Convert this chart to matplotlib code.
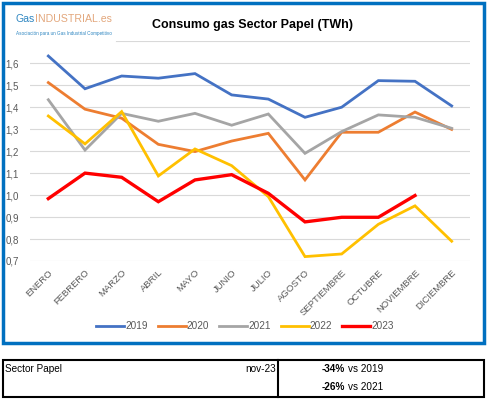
import matplotlib
matplotlib.use("Agg")
import matplotlib.pyplot as plt
from matplotlib.patches import Rectangle

plt.rcParams['font.family'] = ['Liberation Sans', 'DejaVu Sans']

meses = ["ENERO", "FEBRERO", "MARZO", "ABRIL", "MAYO", "JUNIO", "JULIO",
         "AGOSTO", "SEPTIEMBRE", "OCTUBRE", "NOVIEMBRE", "DICIEMBRE"]

v2019 = [1.633, 1.484, 1.542, 1.532, 1.553, 1.456, 1.437, 1.354, 1.400, 1.521, 1.518, 1.406]
v2020 = [1.512, 1.391, 1.350, 1.231, 1.198, 1.246, 1.281, 1.069, 1.286, 1.286, 1.378, 1.299]
v2021 = [1.434, 1.205, 1.372, 1.336, 1.372, 1.318, 1.369, 1.190, 1.289, 1.365, 1.354, 1.304]
v2022 = [1.360, 1.233, 1.380, 1.087, 1.210, 1.134, 0.993, 0.720, 0.732, 0.867, 0.951, 0.790]
v2023 = [0.984, 1.100, 1.081, 0.970, 1.069, 1.093, 1.008, 0.878, 0.899, 0.899, 0.998]

series = [("2019", v2019, "#4472C4", 2.0),
          ("2020", v2020, "#ED7D31", 2.0),
          ("2021", v2021, "#A5A5A5", 2.0),
          ("2022", v2022, "#FFC000", 2.0),
          ("2023", v2023, "#FF0000", 2.4)]

yticks = [0.7, 0.8, 0.9, 1.0, 1.1, 1.2, 1.3, 1.4, 1.5, 1.6]

W, H = 488, 400
fig = plt.figure(figsize=(W / 100, H / 100), dpi=100)

def fx(px):
    return px / W

def fy(py):
    return 1 - py / H

# marco azul del gráfico
fig.patches.append(Rectangle((fx(3), fy(343)), fx(481), 340 / H, transform=fig.transFigure,
                             fill=False, edgecolor="#0070C0", linewidth=2.5))

ax = fig.add_axes([fx(30), fy(261), fx(440), (261 - 41.3) / H])
for nombre, vals, color, lw in series:
    ax.plot(range(len(vals)), vals, color=color, linewidth=lw, label=nombre,
            solid_joinstyle="miter")

ax.set_xlim(-0.5, 11.5)
ax.set_ylim(0.7, 1.7)
ax.set_yticks(yticks)
ax.set_yticklabels([f"{t:.1f}".replace(".", ",") for t in yticks], fontsize=7,
                   color="#595959")
ax.set_xticks(range(len(meses)))
ax.set_xticklabels(meses, rotation=45, ha="right", rotation_mode="anchor",
                   fontsize=6.8, color="#595959")
ax.tick_params(axis="both", length=0)
ax.tick_params(axis="y", pad=8)
ax.tick_params(axis="x", pad=5)
ax.grid(axis="y", color="#D9D9D9", linewidth=0.8)
ax.set_axisbelow(True)
for s in ax.spines.values():
    s.set_visible(False)
ax.axhline(1.7, xmin=(116 - 30) / 440, xmax=1, color="#D9D9D9", linewidth=0.8, zorder=0)

ax.legend(loc="center", bbox_to_anchor=(fx(245), fy(326)), bbox_transform=fig.transFigure,
          ncol=5, frameon=False, handlelength=2.8, handletextpad=0.1,
          columnspacing=1.0, labelcolor="#595959", fontsize=7.2)

fig.text(fx(253), fy(25), "Consumo gas Sector Papel (TWh)", ha="center", va="center",
         fontsize=9, fontweight="bold")

# logo
t1 = fig.text(fx(16), fy(19), "Gas", ha="left", va="center", fontsize=7.6, color="#2E86C1")
fig.canvas.draw()
bb = t1.get_window_extent()
fig.text(bb.x1 / W, fy(19), "INDUSTRIAL.es", ha="left", va="center", fontsize=7.6,
         color="#E3A77C")
fig.text(fx(16), fy(33), "Asociación para un Gas Industrial Competitivo", ha="left",
         va="center", fontsize=3.3, color="#2E86C1")

# tabla inferior
fig.patches.append(Rectangle((fx(3), fy(397)), fx(481), 37 / H, transform=fig.transFigure,
                             fill=False, edgecolor="black", linewidth=1.5))
fig.lines.append(plt.Line2D([fx(278), fx(278)], [fy(397), fy(360)], transform=fig.transFigure,
                            color="black", linewidth=1.5))
fig.text(fx(5), fy(369), "Sector Papel", ha="left", va="center", fontsize=7.2)
fig.text(fx(276), fy(369), "nov-23", ha="right", va="center", fontsize=7.2)
fig.text(fx(345), fy(369), "-34%", ha="right", va="center", fontsize=7.2, fontweight="bold")
fig.text(fx(348), fy(369), "vs 2019", ha="left", va="center", fontsize=7.2)
fig.text(fx(345), fy(387), "-26%", ha="right", va="center", fontsize=7.2, fontweight="bold")
fig.text(fx(348), fy(387), "vs 2021", ha="left", va="center", fontsize=7.2)

fig.savefig("out.png", dpi=100)
